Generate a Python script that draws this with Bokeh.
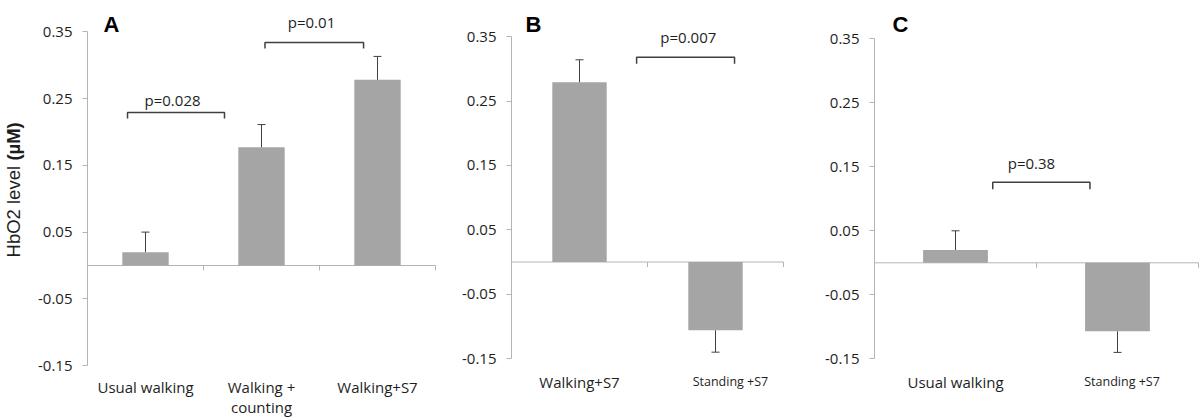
import math
from bokeh.plotting import figure
from bokeh.models import Range1d, FixedTicker, LinearAxis, Label
from bokeh.layouts import row
from bokeh.embed import file_html
from bokeh.resources import INLINE

# ---------------- data ----------------
a_categories = ["Usual walking", "Walking +\ncounting", "Walking+S7"]
a_values = [0.020, 0.177, 0.278]
a_errors = [0.030, 0.034, 0.035]
a_pvalues = ["p=0.028", "p=0.01"]

b_categories = ["Walking+S7", "Standing +S7"]
b_values = [0.279, -0.106]
b_errors = [0.035, 0.034]
b_pvalues = ["p=0.007"]

c_categories = ["Usual walking", "Standing +S7"]
c_values = [0.020, -0.107]
c_errors = [0.030, 0.033]
c_pvalues = ["p=0.38"]

y_ticks = [-0.15, -0.05, 0.05, 0.15, 0.25, 0.35]
y_tick_labels = ["-0.15", "-0.05", "0.05", "0.15", "0.25", "0.35"]

# ---------------- styles ----------------
BAR = "#a5a5a5"
AXIS = "#b4b4b4"
DARK = "#404040"
TEXT = "#1e1e1e"
FONT = "Open Sans"
HEIGHT = 418


def panel(letter, cats, vals, errs, pvals, width, axis_px, zero_px, ppx, ppy,
          letter_pos, brackets, label_y, label_x_shift=None, label_sizes=None):
    """axis_px / zero_px: pixel position of the y axis / zero line inside the canvas;
    ppx, ppy: pixels per data unit (x: per category, y: per value unit)."""
    n = len(cats)
    xr = Range1d(-axis_px / ppx, (width - axis_px) / ppx)
    yr = Range1d((zero_px - HEIGHT) / ppy, zero_px / ppy)
    p = figure(x_range=xr, y_range=yr, width=width, height=HEIGHT,
               output_backend="svg", toolbar_location=None,
               x_axis_location=None, y_axis_location=None,
               min_border=0)
    p.outline_line_color = None
    p.grid.visible = False
    p.background_fill_color = "white"
    p.border_fill_color = "white"

    # y axis drawn at x = 0 (left edge of the first category)
    ya = LinearAxis(fixed_location=0, ticker=FixedTicker(ticks=y_ticks),
                    major_label_overrides=dict(zip(y_ticks, y_tick_labels)),
                    bounds=(y_ticks[0], y_ticks[-1]))
    ya.axis_line_color = AXIS
    ya.major_tick_line_color = AXIS
    ya.major_tick_in = 0
    ya.major_tick_out = 5
    ya.minor_tick_line_color = None
    ya.major_label_standoff = 10
    ya.major_label_text_font = FONT
    ya.major_label_text_font_size = "15px"
    ya.major_label_text_color = TEXT
    p.add_layout(ya, "left")

    # zero line with category separators
    seps = [float(i) for i in range(1, n + 1)]
    tick_len = 5 / ppy
    p.segment(x0=[0.0], y0=[0.0], x1=[float(n)], y1=[0.0], line_color=AXIS, line_width=1)
    p.segment(x0=seps, y0=[0.0] * n, x1=seps, y1=[-tick_len] * n,
              line_color=AXIS, line_width=1)

    # bars
    xs = [i + 0.5 for i in range(n)]
    p.vbar(x=xs, top=vals, bottom=0, width=0.4, fill_color=BAR, line_color=None)

    # error bars (one-sided, away from zero)
    ends = [v + math.copysign(e, v) for v, e in zip(vals, errs)]
    p.segment(x0=xs, y0=vals, x1=xs, y1=ends, line_color=DARK, line_width=1)
    p.scatter(x=xs, y=ends, marker="dash", size=8, line_color=DARK, line_width=1)

    # significance brackets
    for (x0, x1, yt, yb, tx, ty), txt in zip(brackets, pvals):
        p.line(x=[x0, x0, x1, x1], y=[yb, yt, yt, yb], line_color=DARK, line_width=1.5)
        p.add_layout(Label(x=tx, y=ty, text=txt, text_align="center",
                           text_baseline="middle", text_font=FONT,
                           text_font_size="15px", text_color=TEXT))

    # panel letter
    p.add_layout(Label(x=letter_pos[0], y=letter_pos[1], text=letter,
                       text_align="center", text_baseline="alphabetic",
                       text_font="Liberation Sans", text_font_style="bold",
                       text_font_size="22px", text_color="black"))

    # category labels under the plot
    label_x_shift = label_x_shift or {}
    label_sizes = label_sizes or {}
    line_step = 20 / ppy
    for x, cat in zip(xs, cats):
        for k, line in enumerate(cat.split("\n")):
            p.add_layout(Label(x=x + label_x_shift.get(cat, 0.0), y=label_y - k * line_step,
                               text=line, text_align="center", text_baseline="middle",
                               text_font=FONT, text_font_size=label_sizes.get(cat, "15px"),
                               text_color=TEXT))
    return p


pa = panel("A", a_categories, a_values, a_errors, a_pvalues,
           width=437, axis_px=87, zero_px=265, ppx=116, ppy=668,
           letter_pos=(0.207, 0.361),
           brackets=[(0.345, 1.181, 0.229, 0.220, 0.733, 0.2485),
                     (1.53, 2.38, 0.334, 0.325, 1.931, 0.364)],
           label_y=-0.1826)
# y-axis title: "HbO2 level" regular + "(µM)" bold
pa.add_layout(Label(x=-0.64, y=0.012, text="HbO2 level", angle=math.pi / 2,
                    text_align="left", text_baseline="middle",
                    text_font="Liberation Sans", text_font_size="18.5px",
                    text_color=TEXT))
pa.add_layout(Label(x=-0.64, y=0.157, text="(µM)", angle=math.pi / 2,
                    text_align="left", text_baseline="middle",
                    text_font="Liberation Sans", text_font_style="bold",
                    text_font_size="18.5px", text_color=TEXT))

pb = panel("B", b_categories, b_values, b_errors, b_pvalues,
           width=358, axis_px=74, zero_px=261.5, ppx=136, ppy=644,
           letter_pos=(0.162, 0.369),
           brackets=[(0.92, 1.64, 0.318, 0.308, 1.30, 0.349)],
           label_y=-0.1856,
           label_x_shift={"Standing +S7": 0.11},
           label_sizes={"Standing +S7": "12.5px"})

pc = panel("C", c_categories, c_values, c_errors, c_pvalues,
           width=405, axis_px=79, zero_px=262.3, ppx=162, ppy=640,
           letter_pos=(0.160, 0.372),
           brackets=[(0.73, 1.33, 0.126, 0.115, 0.969, 0.156)],
           label_y=-0.1855,
           label_x_shift={"Standing +S7": 0.028},
           label_sizes={"Standing +S7": "12.5px"})

layout = row(pa, pb, pc)
open("out.html", "w").write(file_html(layout, INLINE))
